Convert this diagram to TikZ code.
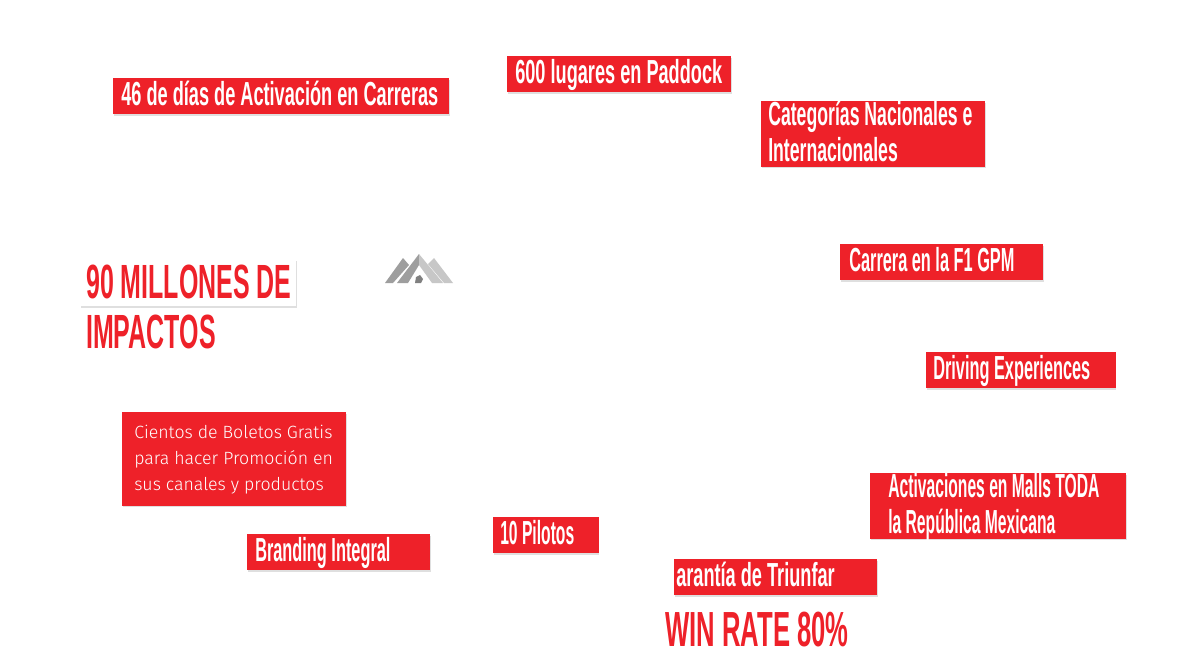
\documentclass[tikz,border=0pt]{standalone}
\usepackage{fontspec}
\usetikzlibrary{shadows}
\newfontfamily\gothicfont[FakeStretch=0.545]{Liberation Sans Bold}
\newfontfamily\midfont[FakeStretch=0.53]{Liberation Sans Bold}
\newfontfamily\narrowfont[FakeStretch=0.49]{Liberation Sans Bold}
\newfontfamily\tightfont[FakeStretch=0.47]{Liberation Sans Bold}
\newfontfamily\headfont[FakeStretch=0.52]{Liberation Sans Bold}
\newfontfamily\plainfont{Fira Sans Light}
\definecolor{boxRed}{HTML}{EE2129}
\newcommand{\oneline}[1]{\mbox{#1}}

\begin{document}
\begin{tikzpicture}[x = 0.75pt, y = -0.75pt]
	\tikzstyle{shadowStyle} = [drop shadow = {opacity = 0.25, shadow xshift = 0.6pt, shadow yshift = -1.2pt}]
	\tikzstyle{boxStyle} = [shape = rectangle, anchor = north west, inner sep = 0pt, fill = boxRed, text = white, align = flush left, shadowStyle, text height = 18.25pt, text depth = 3.75pt, font = \gothicfont\fontsize{25}{27}\selectfont]
	\tikzstyle{titleStyle} = [anchor = north west, inner sep = 0pt, text = boxRed, align = left, font = \headfont\fontsize{36}{37}\selectfont]
	\tikzstyle{logoDark} = [fill = black!38]
	\tikzstyle{logoLight} = [fill = black!22]
	\useasboundingbox (0,0) rectangle (1204,671);
	\fill[white] (0,0) rectangle (1204,671);

	% white strip behind the headline
	\fill[white, shadowStyle] (80,259) rectangle (296,306);

	% red labels, top row
	\node[boxStyle, minimum width = 252pt, minimum height = 27pt, text width = 240pt] (days) at (113,78) {\oneline{46 de días de Activación en Carreras}};
	\node[boxStyle, minimum width = 168pt, minimum height = 27pt, text width = 156pt] (paddock) at (507,56) {\oneline{600 lugares en Paddock}};
	\node[boxStyle, minimum width = 168pt, minimum height = 49pt, text width = 157.5pt, text depth = 30.75pt, font = \midfont\fontsize{25}{27}\selectfont] (categories) at (761,101) {\oneline{Categorías Nacionales e}\\\oneline{Internacionales}};

	% red labels, right side
	\node[boxStyle, minimum width = 152pt, minimum height = 27pt, text width = 138.5pt, font = \narrowfont\fontsize{25}{27}\selectfont] (race) at (840,244) {\oneline{Carrera en la F1 GPM}};
	\node[boxStyle, minimum width = 142pt, minimum height = 27pt, text width = 131.5pt, font = \narrowfont\fontsize{25}{27}\selectfont] (driving) at (926,352) {\oneline{Driving Experiences}};
	\node[boxStyle, minimum width = 192pt, minimum height = 49pt, text width = 165pt, text depth = 30.75pt, font = \tightfont\fontsize{25}{27}\selectfont] (malls) at (870,473) {\oneline{Activaciones en Malls TODA}\\\oneline{la República Mexicana}};

	% red labels, bottom row
	\node[boxStyle, minimum width = 168pt, minimum height = 70pt, text width = 150pt, text height = 19.5pt, text depth = 50.5pt, font = \plainfont\fontsize{13.3}{19.5}\selectfont] (tickets) at (122,412) {\oneline{Cientos de Boletos Gratis}\\\oneline{para hacer Promoción en}\\\oneline{sus canales y productos}};
	\node[boxStyle, minimum width = 137pt, minimum height = 27pt, text width = 125pt, font = \narrowfont\fontsize{25}{27}\selectfont] (branding) at (247,534) {\oneline{Branding Integral}};
	\node[boxStyle, minimum width = 79pt, minimum height = 27pt, text width = 68.5pt, font = \tightfont\fontsize{25}{27}\selectfont] (drivers) at (493,517) {\oneline{10 Pilotos}};
	\node[boxStyle, minimum width = 152pt, minimum height = 27pt, text width = 149pt] (triumph) at (674,559) {\oneline{arantía de Triunfar}};

	% big red titles
	\node[titleStyle] (impacts) at (86,265) {90 MILLONES DE\\IMPACTOS};
	\node[titleStyle, font = \headfont\fontsize{37}{37}\selectfont] (winrate) at (665,612) {WIN RATE 80\%};

	% mountain logo
	\path[logoDark] (385,283) -- (403,258) -- (409,265) -- (393,283) -- cycle;
	\path[logoDark] (397,283) -- (419,254) -- (419,265) -- (408,283) -- cycle;
	\path[logoLight] (419,254) -- (443,283) -- (432,283) -- (419,265) -- cycle;
	\path[logoLight] (434,258) -- (453,283) -- (444,283) -- (428,264) -- cycle;
	\path[fill = black!50] (415,283) -- (416,277) -- (420,275) -- (423,279) -- (421,283) -- cycle;
\end{tikzpicture}
\end{document}
